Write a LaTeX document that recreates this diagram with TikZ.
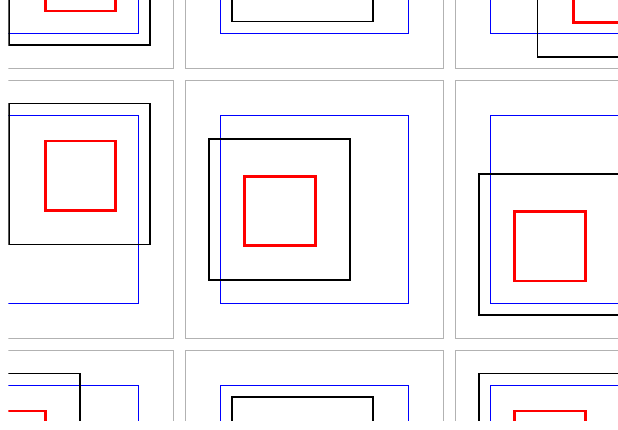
\documentclass[tikz,border=0pt]{standalone}
\usepackage{tikz}
\usepackage{xcolor}

\tikzset{
  panel/.style={draw=gray!60, line width=0.75pt},
  viewport/.style={draw=blue, line width=0.75pt},
  viewbox/.style={draw=black, line width=1.3pt},
  content/.style={draw=red, line width=2pt},
}

\begin{document}
\begin{tikzpicture}[x=0.75pt,y=-0.75pt]
\useasboundingbox (0,0) rectangle (618,429);
\clip (8.4,0) rectangle (618,420.5);
% top row
\begin{scope}[shift={(-84.5,-189.7)}]
\draw[panel] (0,0) rectangle (258,258);
\draw[viewport] (35,35) rectangle (223,223);
\draw[viewbox] (93.75,93.75) rectangle ++(141,141);
\draw[content] (129.75,131.25) rectangle ++(70.5,69.5);
\end{scope}
\begin{scope}[shift={(185.5,-189.7)}]
\draw[panel] (0,0) rectangle (258,258);
\draw[viewport] (35,35) rectangle (223,223);
\draw[viewbox] (46.75,70.25) rectangle ++(141,141);
\draw[content] (82.75,107.75) rectangle ++(70.5,69.5);
\end{scope}
\begin{scope}[shift={(455.5,-189.7)}]
\draw[panel] (0,0) rectangle (258,258);
\draw[viewport] (35,35) rectangle (223,223);
\draw[viewbox] (82,105.5) rectangle ++(141,141);
\draw[content] (118,143) rectangle ++(70.5,69.5);
\end{scope}
% middle row
\begin{scope}[shift={(-84.5,80.3)}]
\draw[panel] (0,0) rectangle (258,258);
\draw[viewport] (35,35) rectangle (223,223);
\draw[viewbox] (93.75,23.25) rectangle ++(141,141);
\draw[content] (129.75,60.75) rectangle ++(70.5,69.5);
\end{scope}
\begin{scope}[shift={(185.5,80.3)}]
\draw[panel] (0,0) rectangle (258,258);
\draw[viewport] (35,35) rectangle (223,223);
\draw[viewbox] (23.25,58.5) rectangle ++(141,141);
\draw[content] (59.25,96) rectangle ++(70.5,69.5);
\end{scope}
\begin{scope}[shift={(455.5,80.3)}]
\draw[panel] (0,0) rectangle (258,258);
\draw[viewport] (35,35) rectangle (223,223);
\draw[viewbox] (23.25,93.75) rectangle ++(141,141);
\draw[content] (59.25,131.25) rectangle ++(70.5,69.5);
\end{scope}
% bottom row
\begin{scope}[shift={(-84.5,350.3)}]
\draw[panel] (0,0) rectangle (258,258);
\draw[viewport] (35,35) rectangle (223,223);
\draw[viewbox] (23.25,23.25) rectangle ++(141,141);
\draw[content] (59.25,60.75) rectangle ++(70.5,69.5);
\end{scope}
\begin{scope}[shift={(185.5,350.3)}]
\draw[panel] (0,0) rectangle (258,258);
\draw[viewport] (35,35) rectangle (223,223);
\draw[viewbox] (46.75,46.75) rectangle ++(141,141);
\draw[content] (82.75,84.25) rectangle ++(70.5,69.5);
\end{scope}
\begin{scope}[shift={(455.5,350.3)}]
\draw[panel] (0,0) rectangle (258,258);
\draw[viewport] (35,35) rectangle (223,223);
\draw[viewbox] (23.25,23.25) rectangle ++(141,141);
\draw[content] (59.25,60.75) rectangle ++(70.5,69.5);
\end{scope}
\end{tikzpicture}
\end{document}
